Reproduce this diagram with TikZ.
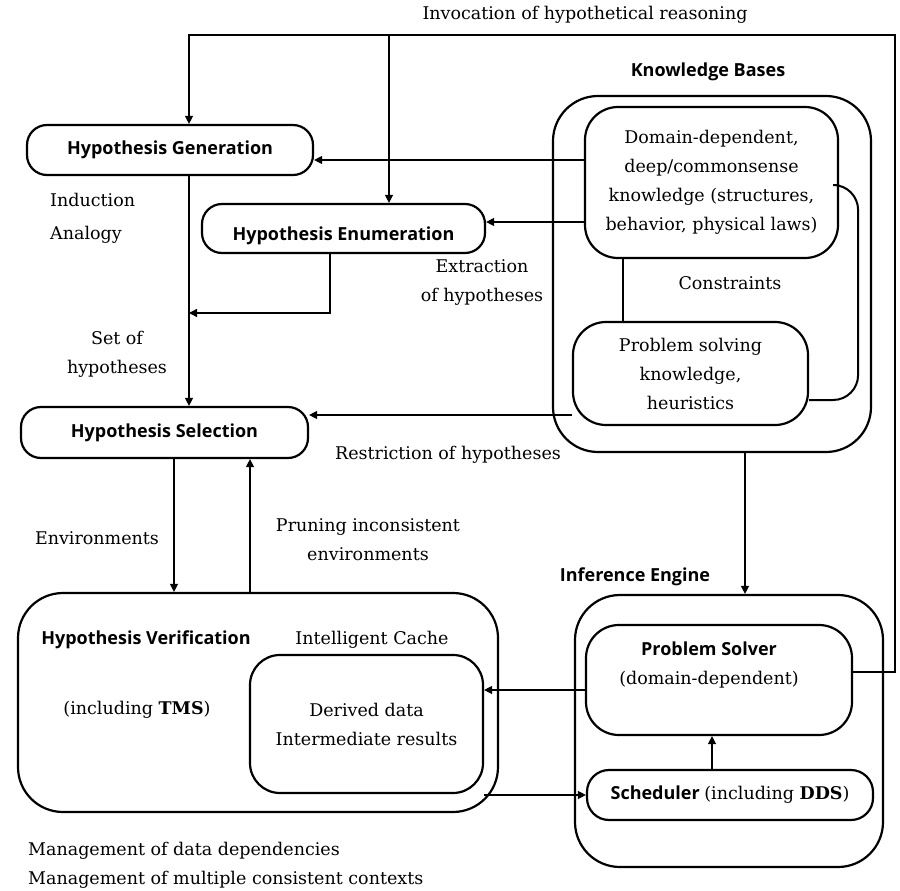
\documentclass[tikz,border=0pt]{standalone}
\usepackage{fontspec}
\setmainfont{DejaVu Serif}
\newfontfamily\hsans{Open Sans}
\usetikzlibrary{arrows.meta}
\begin{document}
\begin{tikzpicture}[x=1pt,y=-1pt,
  every node/.style={inner sep=0pt, font=\fontsize{17.5}{29}\selectfont},
  txt/.style={align=center},
  hs/.style={font=\hsans\bfseries\fontsize{18}{20}\selectfont},
  pill/.style={draw, line width=2.2pt, rounded corners=20pt, hs},
  bigbox/.style={draw, line width=2.2pt, rounded corners=45pt},
  midbox/.style={draw, line width=2.2pt, rounded corners=33pt, align=center},
  arr/.style={line width=1.3pt, -{Triangle[width=8pt,length=8pt]}},
  ln/.style={line width=1.3pt}]
\useasboundingbox (0,0) rectangle (900,891);

% Boxes
\node[pill, minimum width=286pt, minimum height=50pt] (gen) at (170,150) {Hypothesis Generation};
\node[pill, minimum width=283pt, minimum height=49pt] (enu) at (343.5,228.5) {\raisebox{-12pt}[0pt][0pt]{Hypothesis Enumeration}};
\node[pill, minimum width=287pt, minimum height=51pt] (sel) at (164.5,432.5) {Hypothesis Selection};

\node[bigbox, minimum width=318pt, minimum height=356pt] (kb) at (712,274) {};
\node[midbox, minimum width=253pt, minimum height=151pt] (dom) at (711.5,182.5)
  {Domain-dependent,\\deep/commonsense\\knowledge (structures,\\behavior, physical laws)};
\node[midbox, minimum width=235pt, minimum height=103pt] (psk) at (690.5,373.5)
  {Problem solving\\knowledge,\\heuristics};

\node[bigbox, minimum width=480pt, minimum height=219pt] (ver) at (258,702.5) {};
\node[midbox, rounded corners=30pt, minimum width=233pt, minimum height=138pt] (cache) at (366.5,724)
  {Derived data\\Intermediate results};

\node[bigbox, minimum width=308pt, minimum height=272pt] (ie) at (729,731) {};
\node[midbox, minimum width=266pt, minimum height=110pt] (ps) at (719,680) {};
\node[pill, rounded corners=22pt, minimum width=286pt, minimum height=50pt] (sch) at (730,795)
  {Scheduler {\fontspec{DejaVu Serif}\mdseries\fontsize{17.5}{20}\selectfont(including \textbf{DDS})}};

% Text labels
\node (inv) at (585,15) {Invocation of hypothetical reasoning};
\node[hs] (kbt) at (708,72) {Knowledge Bases};
\node[align=left, anchor=west] (ind) at (50,218.5) {Induction\\[4pt]Analogy};
\node[txt] (extr) at (482,282.5) {Extraction\\of hypotheses};
\node (cons) at (730,283) {Constraints};
\node[txt] (setof) at (117,354) {Set of\\hypotheses};
\node (restr) at (448,455) {Restriction of hypotheses};
\node (envl) at (97,538) {Environments};
\node[txt] (prun) at (368,540) {Pruning inconsistent\\environments};
\node[hs] (iet) at (635,577) {Inference Engine};
\node[hs] (vert) at (146,640) {Hypothesis Verification};
\node (tms) at (137,710) {(including \textbf{TMS})};
\node (ict) at (372,640) {Intelligent Cache};
\node[txt] (pst) at (709,665) {{\hsans\bfseries\fontsize{18}{20}\selectfont Problem Solver}\\(domain-dependent)};
\node[align=left, anchor=west] (mgmt) at (28,865)
  {Management of data dependencies\\Management of multiple consistent contexts};

% Connectors
\coordinate (invR) at (895,35);
\coordinate (invM) at (389,35);
\draw[arr] ([yshift=8pt]ps.east) -| (invR) -| ([xshift=19pt]gen.north);
\draw[arr] (invM) -- (invM |- enu.north);

\coordinate (g1) at ([yshift=-10pt]gen.east);
\draw[arr] (dom.west |- g1) -- (g1);
\coordinate (e1) at ([yshift=6.5pt]enu.east);
\draw[arr] (dom.west |- e1) -- (e1);

\draw[arr] ([xshift=19pt]gen.south) -- ([xshift=19pt]gen.south |- sel.north);
\coordinate (j1) at (189,313);
\draw[arr] ([xshift=-13.5pt]enu.south) |- (j1);

\coordinate (s1) at ([yshift=17.5pt]sel.east);
\draw[arr] (psk.west |- s1) -- (s1);

\draw[arr] ([xshift=9.5pt]sel.south) -- ([xshift=9.5pt]sel.south |- ver.north);
\draw[arr] ([xshift=85.5pt]sel.south |- ver.north) -- ([xshift=85.5pt]sel.south);

\draw[arr] ([xshift=33pt]kb.south) -- ([xshift=33pt]kb.south |- ie.north);

\draw[ln, line width=2pt] ([xshift=-88.5pt]dom.south) -- ([xshift=-88.5pt]dom.south |- psk.north);
\draw[ln, line width=2pt, rounded corners=25pt] ([yshift=-2.5pt]dom.east) -- ++(19,0) |- ([yshift=-26.5pt]psk.east);

\coordinate (p1) at ([yshift=-10pt]ps.west);
\draw[arr] (p1) -- (cache.east |- p1);
\draw[arr] (sch.west -| cache.east) -- (sch.west);
\draw[arr] ([xshift=-18pt]sch.north) -- ([xshift=-18pt]sch.north |- ps.south);
\end{tikzpicture}
\end{document}
